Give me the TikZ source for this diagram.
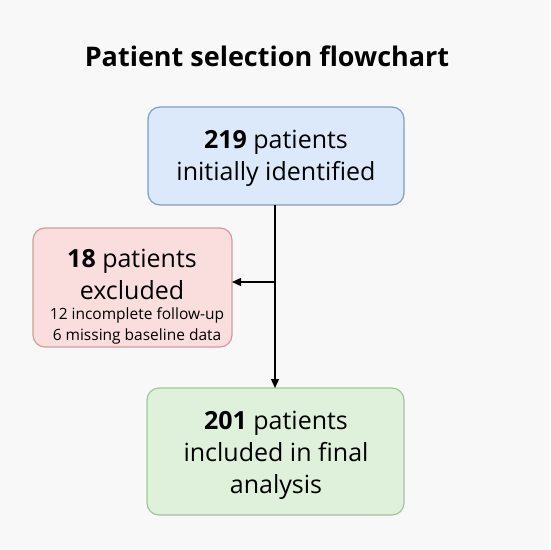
\documentclass[tikz,border=0pt]{standalone}
\usepackage{fontspec}
\setmainfont{Open Sans}
\usetikzlibrary{arrows.meta}
\definecolor{bg}{HTML}{F8F8F8}
\definecolor{bluefill}{HTML}{DCE9FA}
\definecolor{blueline}{HTML}{7E9EC8}
\definecolor{redfill}{HTML}{F9DEDD}
\definecolor{redline}{HTML}{D29C9A}
\definecolor{greenfill}{HTML}{DFF0DB}
\definecolor{greenline}{HTML}{9CC99A}
\tikzset{
  box/.style={draw, line width=1.2pt, rounded corners=12pt},
  big/.style={font=\fontsize{25}{32}\selectfont, align=center, inner sep=0pt},
  small/.style={font=\fontsize{15.5}{20.5}\selectfont, align=center, inner sep=0pt},
  conn/.style={line width=1.3pt, -{Triangle[length=9pt,width=8pt]}}
}
\begin{document}
\begin{tikzpicture}[x=1pt,y=-1pt]
\fill[bg] (0,0) rectangle (550,550);
\useasboundingbox (0,0) rectangle (550,550);
\node (title) at (267,56) {\fontsize{27}{30}\selectfont\bfseries Patient selection flowchart};
\draw[box, fill=bluefill, draw=blueline] (148,107) rectangle (404,205);
\node (b1) at (276,158) [big] {\textbf{219} patients\\initially identified};
\draw[box, fill=redfill, draw=redline] (33,228) rectangle (232,347);
\node (r1) at (132,274) [big] {\textbf{18} patients\\excluded};
\node (r2) at (137,326) [small] {12 incomplete follow-up\\6 missing baseline data};
\draw[box, fill=greenfill, draw=greenline] (147,388) rectangle (404,515);
\node (g1) at (276,455) [big] {\textbf{201} patients\\included in final\\analysis};
\coordinate (top) at (275,205);
\coordinate (bot) at (275,388);
\coordinate (mid) at (275,282);
\coordinate (redr) at (232,282);
\draw[conn] (top) -- (bot);
\draw[conn] (mid) -- (redr);
\end{tikzpicture}
\end{document}
